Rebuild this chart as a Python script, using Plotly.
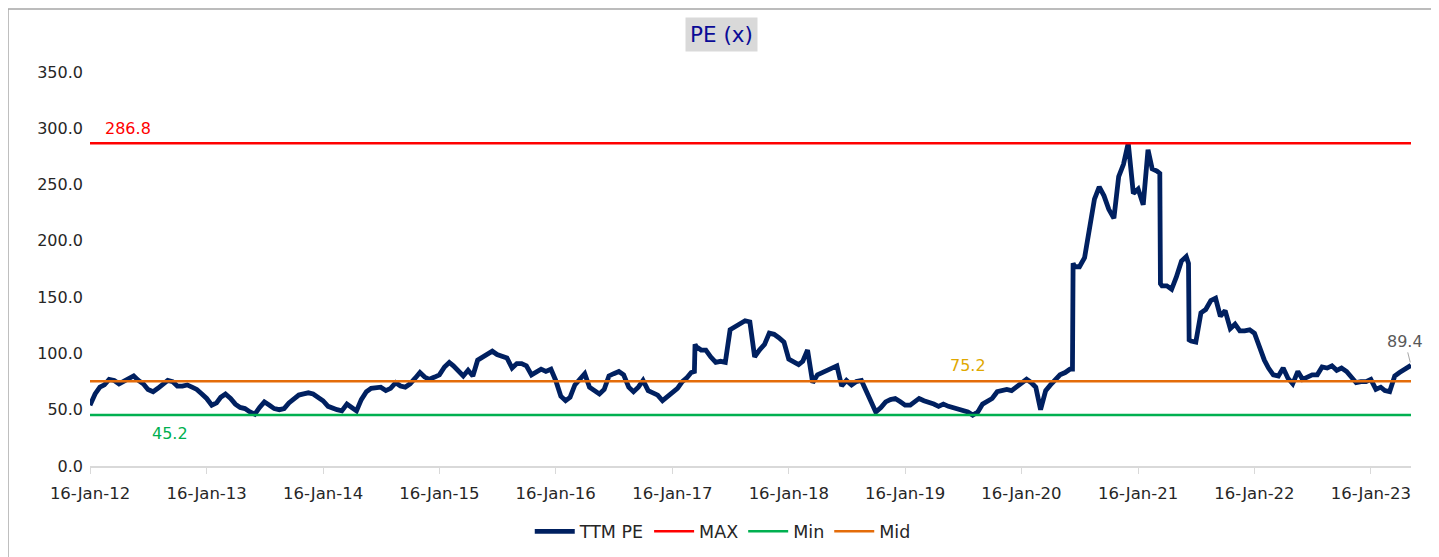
import plotly.graph_objects as go
import pandas as pd

# ---- data -------------------------------------------------------------
# TTM PE readings, two per month (1st and 16th), one list per year starting 16-Jan
pe_2012 = [54, 64, 70, 72, 77, 76, 73, 75, 78, 80, 76, 73, 68, 66, 69, 72, 76, 75, 71, 71, 72, 70, 68, 64]
pe_2013 = [60, 54, 56, 61, 64, 60, 55, 52, 51, 48, 46, 52, 57, 54, 51, 50, 51, 56, 59, 63, 64, 65, 64, 61]
pe_2014 = [58, 53, 51, 50, 49, 55, 52, 49, 59, 66, 69, 70, 70, 67, 69, 74, 71, 70, 73, 78, 83, 79, 77, 79]
pe_2015 = [81, 88, 92, 89, 85, 80, 85, 80, 94, 97, 100, 102, 99, 98, 96, 87, 91, 91, 89, 81, 84, 86, 84, 86]
pe_2016 = [76, 62, 58, 61, 72, 78, 82, 70, 67, 64, 68, 80, 82, 84, 81, 70, 66, 70, 76, 67, 65, 63, 58, 62]
pe_2017 = [66, 69, 75, 78, 83, 106, 103, 103, 97, 92, 93, 92, 121, 124, 127, 129, 128, 97, 103, 108, 118, 117, 114, 110]
pe_2018 = [95, 93, 90, 93, 103, 74, 81, 83, 85, 86, 89, 71, 76, 72, 75, 76, 67, 56, 48, 52, 57, 59, 60, 57]
pe_2019 = [54, 54, 57, 60, 58, 57, 55, 53, 55, 53, 52, 51, 50, 48, 45.2, 48, 55, 58, 60, 66, 67, 68, 67, 70]
pe_2020 = [74, 77, 74, 70, 50, 67, 72, 77, 81, 83, 86, 177, 177, 185, 210, 237, 248, 240, 228, 220, 257, 268, 286.8, 242]
pe_2021 = [246, 232, 281, 264, 262, 160, 160, 157, 168, 182, 186, 111, 110, 136, 139, 147, 149, 133, 138, 122, 126, 120, 120, 121]
pe_2022 = [118, 104, 94, 87, 81, 80, 87, 78, 73, 84, 77, 79, 81, 81, 88, 87, 89, 85, 87, 84, 79, 74, 75, 75]
pe_2023 = [77, 68, 70, 67, 66, 80, 83, 86, 88]
last_date = "2023-05-22"
last_value = 89.4

# extra readings around the sharp jumps
extra_dates = ["2017-03-26", "2017-03-28", "2020-06-24", "2020-06-26",
               "2021-03-25", "2021-03-27", "2021-06-23", "2021-06-25"]
extra_values = [84, 108, 86, 180, 260, 162, 180, 112]

max_pe = 286.8
min_pe = 45.2
mid_pe = 75.2

tick_dates = ["2012-01-16", "2013-01-16", "2014-01-16", "2015-01-16", "2016-01-16", "2017-01-16",
              "2018-01-16", "2019-01-16", "2020-01-16", "2021-01-16", "2022-01-16", "2023-01-16"]
tick_labels = ["16-Jan-12", "16-Jan-13", "16-Jan-14", "16-Jan-15", "16-Jan-16", "16-Jan-17",
               "16-Jan-18", "16-Jan-19", "16-Jan-20", "16-Jan-21", "16-Jan-22", "16-Jan-23"]
y_ticks = [0, 50, 100, 150, 200, 250, 300, 350]

# ---- assemble series --------------------------------------------------
yearly = {2012: pe_2012, 2013: pe_2013, 2014: pe_2014, 2015: pe_2015, 2016: pe_2016, 2017: pe_2017,
          2018: pe_2018, 2019: pe_2019, 2020: pe_2020, 2021: pe_2021, 2022: pe_2022, 2023: pe_2023}


def year_dates(y):
    d = [f"{y}-01-16"]
    for m in range(2, 13):
        d += [f"{y}-{m:02d}-01", f"{y}-{m:02d}-16"]
    d.append(f"{y + 1}-01-01")
    return d


dates, vals = [], []
for y, v in yearly.items():
    dd = year_dates(y)[:len(v)]
    dates += dd
    vals += v
dates.append(last_date)
vals.append(last_value)
dates += extra_dates
vals += extra_values

df = pd.DataFrame({"date": pd.to_datetime(dates), "pe": vals}).sort_values("date")
x0, x1 = df["date"].iloc[0], df["date"].iloc[-1]

# ---- figure -----------------------------------------------------------
FONT = "DejaVu Sans"
TXT = "#262626"
fig = go.Figure()
fig.add_trace(go.Scatter(x=df["date"], y=df["pe"], mode="lines", name="TTM PE",
                         line=dict(color="#002060", width=4.8)))
fig.add_trace(go.Scatter(x=[x0, x1], y=[max_pe, max_pe], mode="lines", name="MAX",
                         line=dict(color="#FF0000", width=2.5)))
fig.add_trace(go.Scatter(x=[x0, x1], y=[min_pe, min_pe], mode="lines", name="Min",
                         line=dict(color="#00B050", width=2.5)))
fig.add_trace(go.Scatter(x=[x0, x1], y=[mid_pe, mid_pe], mode="lines", name="Mid",
                         line=dict(color="#E46C0A", width=2.5)))

fig.update_layout(
    width=1431, height=549,
    margin=dict(l=82, r=28, t=64, b=91, autoexpand=False),
    paper_bgcolor="white", plot_bgcolor="white",
    font=dict(family=FONT, size=16, color=TXT),
    showlegend=True,
    legend=dict(orientation="h", x=0.479, xanchor="center", y=-0.166, yanchor="middle",
                font=dict(size=17.5, color=TXT), itemwidth=40, tracegroupgap=0),
    xaxis=dict(type="date", range=[x0, x1], tickvals=pd.to_datetime(tick_dates), ticktext=tick_labels,
               showgrid=False, zeroline=False, showline=True, linecolor="#D9D9D9", linewidth=1.5,
               ticks="outside", ticklen=6, tickcolor="#D9D9D9", tickfont=dict(size=16.5),
               ticklabelstandoff=5, automargin=False),
    yaxis=dict(range=[0, 350], tickvals=y_ticks, tickformat=".1f", showgrid=False, zeroline=False,
               showline=False, ticks="", tickfont=dict(size=16), ticklabelstandoff=6, automargin=False),
)

# title box
fig.add_annotation(xref="paper", yref="paper", x=0.4777, y=1.0964, yanchor="middle", text="PE (x)",
                   showarrow=False, font=dict(family=FONT, size=21.5, color="#0A0A96"),
                   bgcolor="#D9D9D9", borderpad=4)
# value labels
fig.add_annotation(x=pd.Timestamp("2012-05-14"), y=max_pe, yshift=15, text=f"{max_pe:.1f}", showarrow=False,
                   font=dict(family=FONT, size=16, color="#FF0000"))
fig.add_annotation(x=pd.Timestamp("2012-09-23"), y=min_pe, yshift=-18, text=f"{min_pe:.1f}", showarrow=False,
                   font=dict(family=FONT, size=16, color="#00B050"))
fig.add_annotation(x=pd.Timestamp("2019-07-31"), y=mid_pe, yshift=16, text=f"{mid_pe:.1f}", showarrow=False,
                   font=dict(family=FONT, size=16, color="#E0A800"))
fig.add_annotation(x=df["date"].iloc[-1], y=last_value, text=f"{last_value:.1f}", showarrow=True,
                   arrowhead=0, arrowwidth=1, arrowcolor="#A6A6A6", ax=-6, ay=-24, standoff=3,
                   font=dict(family=FONT, size=16, color="#595959"))

# outer frame
fig.add_shape(type="rect", xref="paper", yref="paper", x0=-0.0621, x1=1.0159, y0=-0.3, y1=1.16,
              line=dict(color="#A6A6A6", width=1.5), fillcolor="rgba(0,0,0,0)", layer="below")

fig.write_html("out.html")
